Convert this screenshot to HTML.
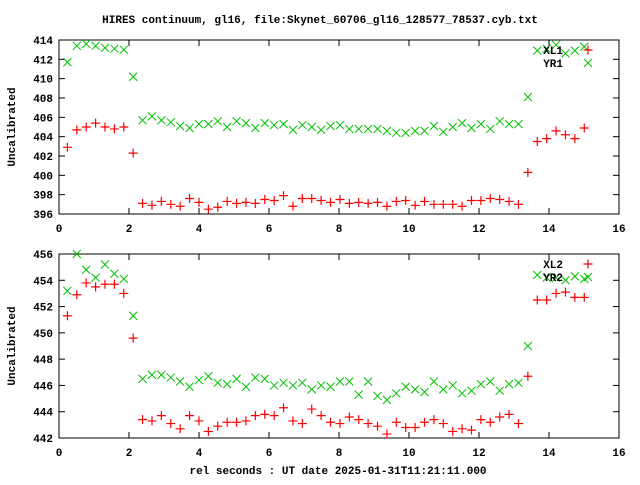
<!DOCTYPE html>
<html><head><meta charset="utf-8"><style>
html,body{margin:0;padding:0;background:#fff;}
svg text{font-family:"Liberation Mono","DejaVu Sans Mono",monospace;font-size:11px;font-weight:bold;fill:#000;}
</style></head><body>
<svg id="chart" width="640" height="480" xmlns="http://www.w3.org/2000/svg">
<text x="320" y="23" text-anchor="middle">HIRES continuum, gl16, file:Skynet_60706_gl16_128577_78537.cyb.txt</text>
<text x="338" y="474" text-anchor="middle">rel seconds : UT date 2025-01-31T11:21:11.000</text>
</svg>
<script>
const t0 = 0.24, dt = 0.2685;
const xTicks = [0,2,4,6,8,10,12,14,16];
const topTicks = [396,398,400,402,404,406,408,410,412,414];
const botTicks = [442,444,446,448,450,452,454,456];
const xl1 = [402.9,404.7,405.0,405.4,405.0,404.8,405.0,402.3,397.1,396.9,397.3,397.0,396.8,397.6,397.2,396.5,396.7,397.3,397.1,397.2,397.1,397.5,397.4,397.9,396.8,397.6,397.6,397.4,397.2,397.5,397.1,397.2,397.1,397.2,396.8,397.3,397.4,396.9,397.3,397.0,397.0,397.0,396.8,397.4,397.4,397.6,397.5,397.3,397.0,400.3,403.5,403.8,404.6,404.2,403.8,404.9];
const yr1 = [411.7,413.4,413.6,413.4,413.2,413.1,413.0,410.2,405.7,406.1,405.7,405.5,405.1,404.9,405.3,405.3,405.6,405.0,405.6,405.4,404.9,405.4,405.2,405.3,404.7,405.2,405.0,404.7,405.1,405.2,404.8,404.8,404.8,404.8,404.6,404.4,404.4,404.6,404.6,405.1,404.5,405.0,405.4,404.9,405.3,404.8,405.6,405.3,405.3,408.1,412.9,413.1,413.5,412.6,412.9,413.3];
const xl2 = [451.3,452.9,453.8,453.5,453.7,453.7,453.0,449.6,443.4,443.3,443.7,443.1,442.7,443.7,443.3,442.5,442.9,443.2,443.2,443.3,443.7,443.8,443.7,444.3,443.3,443.1,444.2,443.7,443.2,443.1,443.6,443.4,443.1,442.9,442.3,443.2,442.8,442.8,443.2,443.4,443.1,442.5,442.7,442.6,443.4,443.2,443.6,443.8,443.1,446.7,452.5,452.5,453.0,453.1,452.7,452.7];
const yr2 = [453.2,456.0,454.8,454.2,455.2,454.5,454.1,451.3,446.5,446.8,446.8,446.6,446.3,445.9,446.4,446.7,446.2,446.1,446.5,445.9,446.6,446.5,446.0,446.2,446.0,446.2,445.7,446.0,445.9,446.3,446.3,445.3,446.3,445.2,444.9,445.4,445.9,445.7,445.5,446.3,445.7,446.0,445.4,445.6,446.1,446.3,445.6,446.1,446.2,449.0,454.4,454.2,454.2,454.0,454.3,454.1];

const NS = 'http://www.w3.org/2000/svg';
const svg = document.getElementById('chart');
function mk(tag, attrs, parent) {
  const e = document.createElementNS(NS, tag);
  for (const k in attrs) e.setAttribute(k, attrs[k]);
  (parent || svg).appendChild(e);
  return e;
}
const X0 = 59, X1 = 619;
function xs(v) { return X0 + (v - 0) / 16 * (X1 - X0); }

function panel(p) {
  const g = mk('g', {});
  
  
  const ys = v => p.y1 - (v - p.min) / (p.max - p.min) * (p.y1 - p.y0);
  const frame = mk('rect', {x: X0, y: p.y0, width: X1 - X0, height: p.y1 - p.y0, fill: 'none', stroke: '#000', 'stroke-width': 1}, g);
  
  
  p.ticks.forEach(v => {
    const y = ys(v);
    mk('line', {x1: X0, x2: X0 + 6, y1: y, y2: y, stroke: '#000'}, g);
    mk('line', {x1: X1, x2: X1 - 6, y1: y, y2: y, stroke: '#000'}, g);
    const t = mk('text', {x: 53, y: y + 4, 'text-anchor': 'end'}, g);
    t.textContent = v;
    
    
  });
  xTicks.forEach(v => {
    const x = xs(v);
    mk('line', {x1: x, x2: x, y1: p.y1, y2: p.y1 - 6, stroke: '#000'}, g);
    mk('line', {x1: x, x2: x, y1: p.y0, y2: p.y0 + 6, stroke: '#000'}, g);
    const t = mk('text', {x: x, y: p.y1 + 18, 'text-anchor': 'middle'}, g);
    t.textContent = v;
    
    
  });
  const yl = mk('text', {x: 15, y: (p.y0 + p.y1) / 2, 'text-anchor': 'middle', transform: 'rotate(-90 15 ' + (p.y0 + p.y1) / 2 + ')'}, g);
  yl.textContent = 'Uncalibrated';
  
  
  function plus(x, y, gg) { mk('path', {d: `M${x-4.5},${y}h9M${x},${y-4.5}v9`, stroke: '#ff0000', 'stroke-width': 1.2, fill: 'none'}, gg); }
  function cross(x, y, gg) { mk('path', {d: `M${x-4},${y-4}l8,8M${x-4},${y+4}l8,-8`, stroke: '#00c000', 'stroke-width': 1, fill: 'none'}, gg); }
  const sr = mk('g', {}, g);
  
  
  p.red.forEach((v, i) => plus(xs(t0 + dt * i), ys(v), sr));
  const sg = mk('g', {}, g);
  
  
  p.green.forEach((v, i) => cross(xs(t0 + dt * i), ys(v), sg));
  const lg = mk('g', {}, g);
  
  
  const l1 = mk('text', {x: 563, y: p.y0 + 14, 'text-anchor': 'end'}, lg);
  l1.textContent = p.s1;
  
  
  plus(588, p.y0 + 10, lg);
  const l2 = mk('text', {x: 563, y: p.y0 + 27, 'text-anchor': 'end'}, lg);
  l2.textContent = p.s2;
  
  
  cross(588, p.y0 + 23, lg);
}
panel({name: 'top-panel', y0: 40, y1: 214, min: 396, max: 414, ticks: topTicks, red: xl1, green: yr1, s1: 'XL1', s2: 'YR1'});
panel({name: 'bottom-panel', y0: 254, y1: 438, min: 442, max: 456, ticks: botTicks, red: xl2, green: yr2, s1: 'XL2', s2: 'YR2'});
</script>
</body></html>
